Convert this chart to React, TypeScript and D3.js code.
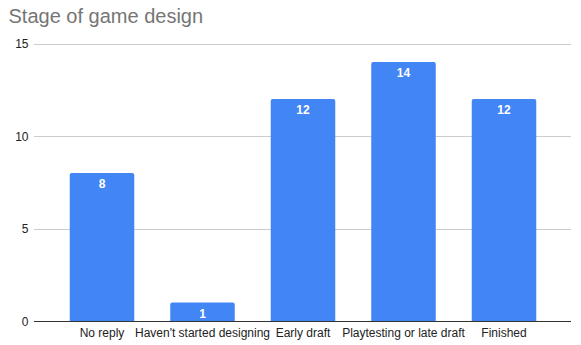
import React, { useEffect, useRef } from 'react';
import * as d3 from 'd3';

const categories = ['No reply', "Haven't started designing", 'Early draft', 'Playtesting or late draft', 'Finished'];
const counts = [8, 1, 12, 14, 12];
const yTicks = [0, 5, 10, 15];
const title = 'Stage of game design';

const App = () => {
    const svgRef = useRef(null);

    useEffect(() => {
        const svg = d3.select(svgRef.current);
        svg.selectAll('*').remove();

        const font = 'Arial, "Liberation Sans", sans-serif';

        const x = d3.scaleBand()
            .domain(categories)
            .range([51.75, 554.25])
            .paddingInner(0.358)
            .paddingOuter(0.179);

        const y = d3.scaleLinear().domain([0, 15]).range([321, 43.5]);

        // title
        svg.append('text')
            .attr('x', 8.5)
            .attr('y', 22.5)
            .attr('font-family', font)
            .attr('font-size', 20)
            .attr('fill', '#757575')
            .text(title);

        // gridlines
        svg.append('g')
            .selectAll('line')
            .data(yTicks.filter(t => t > 0))
            .join('line')
            .attr('x1', 34)
            .attr('x2', 571)
            .attr('y1', d => Math.round(y(d)) + 0.5)
            .attr('y2', d => Math.round(y(d)) + 0.5)
            .attr('stroke', '#cccccc')
            .attr('stroke-width', 1);

        // y tick labels
        svg.append('g')
            .selectAll('text')
            .data(yTicks)
            .join('text')
            .attr('x', 28.5)
            .attr('y', d => y(d) + 4.5)
            .attr('text-anchor', 'end')
            .attr('font-family', font)
            .attr('font-size', 12)
            .attr('fill', '#222222')
            .text(d => d);

        // bars (slightly rounded top)
        const r = 2;
        svg.append('g')
            .selectAll('path')
            .data(categories)
            .join('path')
            .attr('fill', '#4285f4')
            .attr('d', (c, i) => {
                const x0 = x(c)!;
                const x1 = x0 + x.bandwidth();
                const y0 = y(counts[i]);
                const yb = y(0);
                return `M${x0},${yb}V${y0 + r}Q${x0},${y0} ${x0 + r},${y0}H${x1 - r}Q${x1},${y0} ${x1},${y0 + r}V${yb}Z`;
            });

        // value labels
        svg.append('g')
            .selectAll('text')
            .data(categories)
            .join('text')
            .attr('x', c => x(c)! + x.bandwidth() / 2)
            .attr('y', (c, i) => y(counts[i]) + 15)
            .attr('text-anchor', 'middle')
            .attr('font-family', font)
            .attr('font-size', 12)
            .attr('font-weight', 'bold')
            .attr('fill', '#ffffff')
            .text((c, i) => counts[i]);

        // baseline
        svg.append('line')
            .attr('x1', 34)
            .attr('x2', 571)
            .attr('y1', y(0) + 0.5)
            .attr('y2', y(0) + 0.5)
            .attr('stroke', '#333333')
            .attr('stroke-width', 1);

        // category labels
        svg.append('g')
            .selectAll('text')
            .data(categories)
            .join('text')
            .attr('x', c => x(c)! + x.bandwidth() / 2)
            .attr('y', 337)
            .attr('text-anchor', 'middle')
            .attr('font-family', font)
            .attr('font-size', 12)
            .attr('fill', '#222222')
            .text(c => c);
    }, []);

    return (
        <svg ref={svgRef} width={581} height={345}
            style={{ position: 'absolute', left: 0, top: 0, background: '#ffffff' }} />
    );
};

export default App;
